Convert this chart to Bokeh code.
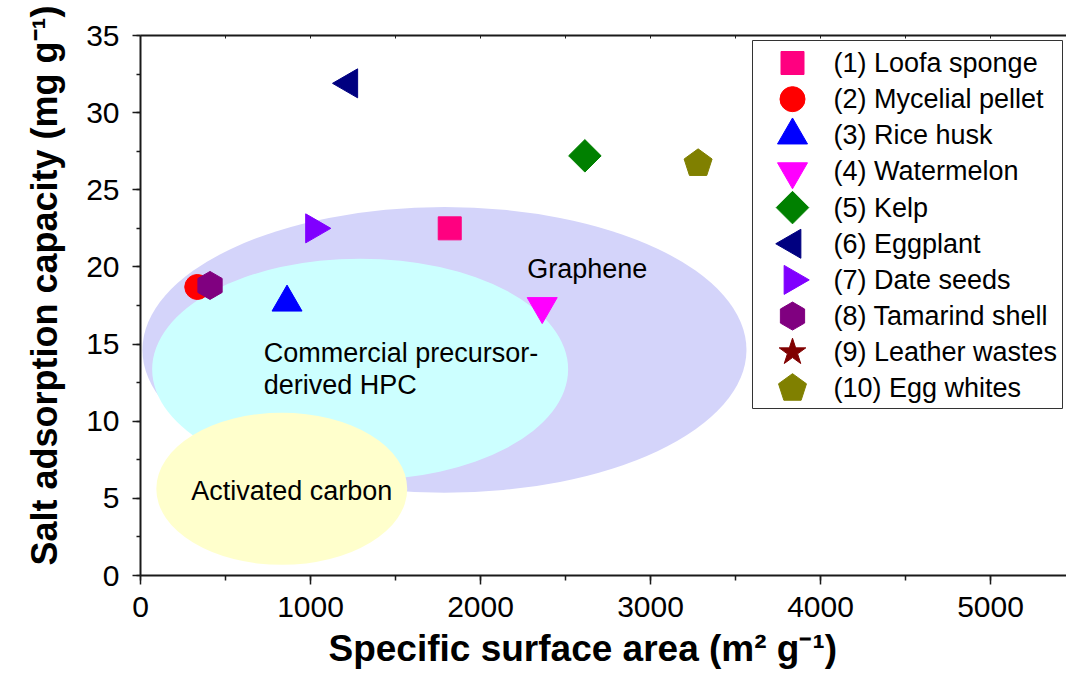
import math
from bokeh.plotting import figure
from bokeh.models import (ColumnDataSource, Range1d, LinearAxis, SingleIntervalTicker,
                          FixedTicker, Title)
from bokeh.core.properties import value
from bokeh.embed import file_html
from bokeh.resources import INLINE

# ---------------- data ----------------
names = ["(1) Loofa sponge", "(2) Mycelial pellet", "(3) Rice husk", "(4) Watermelon",
         "(5) Kelp", "(6) Eggplant", "(7) Date seeds", "(8) Tamarind shell",
         "(9) Leather wastes", "(10) Egg whites"]
ssa = [[1819], [334], [862], [2363], [2614], [1228], [1021], [409], [], [3280]]
capacity = [[22.5], [18.7], [17.7], [17.45], [27.2], [31.9], [22.5], [18.8], [], [26.7]]

region_x = [1788, 1292, 831]
region_y = [14.62, 13.36, 5.62]
region_w = [3553, 2447, 1476]
region_h = [18.52, 14.36, 9.86]

label_text = ["Graphene", "Commercial precursor-", "derived HPC", "Activated carbon"]
label_x = [2275, 725, 725, 298]
label_y = [19.85, 14.44, 12.34, 5.5]

x_label = "Specific surface area (m\u00b2 g\u207b\u00b9)"
y_label = "Salt adsorption capacity (mg g\u207b\u00b9)"

# ---------------- styles / layout ----------------
colors = ["#FF0080", "#FF0000", "#0000FF", "#FF00FF", "#008000", "#000080",
          "#8000FF", "#800080", "#800000", "#808000"]
markers = ["square", "circle", "triangle", "inverted_triangle", "square", "triangle",
           "triangle", "hex", "star", None]
sizes = [23, 25, 30, 30, 23, 29, 29, 28, 28, 14.7]
angles = [0, 0, 0, 0, math.pi / 4, math.pi / 2, -math.pi / 2, math.pi / 6, 0, 0]
region_colors = ["#D4D4FA", "#CCFFFF", "#FFFFCC"]

FONT = "Liberation Sans"
W, H = 1066, 680
ML, MT, MR, MB = 140, 35, 0, 105
FW, FH = W - ML - MR, H - MT - MB          # frame size in px
X_PER_PX = 1 / 0.17                        # data units per pixel along x

p = figure(width=W, height=H, output_backend="svg", toolbar_location=None,
           x_range=Range1d(0, FW * X_PER_PX), y_range=Range1d(0, 35),
           min_border_left=ML, min_border_right=MR, min_border_top=MT, min_border_bottom=MB)
p.outline_line_color = None
p.xgrid.visible = False
p.ygrid.visible = False
p.extra_x_ranges = {"px": Range1d(0, FW)}
p.extra_y_ranges = {"py": Range1d(0, FH)}


def draw_marker(i, x, y, **kw):
    src = ColumnDataSource(dict(x=x, y=y))
    if markers[i] is None:
        return p.ngon(x="x", y="y", radius=sizes[i], radius_units="screen", n=5, angle=angles[i],
                      source=src, fill_color=colors[i], line_color=colors[i], **kw)
    return p.scatter(x="x", y="y", source=src, marker=markers[i], size=sizes[i],
                     angle=angles[i], fill_color=colors[i], line_color=colors[i], **kw)


# regions
p.ellipse(x=region_x, y=region_y, width=region_w, height=region_h,
          fill_color=region_colors, line_color=None)
p.text(x=label_x, y=label_y, text=label_text, text_font=value(FONT),
       text_font_size="27px", text_baseline="middle", text_align="left", text_color="black")

# data points
for i in range(len(names)):
    draw_marker(i, ssa[i], capacity[i])

# legend (drawn in frame pixel coordinates)
LEG_L, LEG_R, LEG_T, LEG_B = 752 - ML, 1062 - ML, 575 - 40, 575 - 408
ROW0, PITCH = 62.5, 36.15
GLYPH_X, TEXT_X = 792 - ML, 833 - ML
p.quad(left=[LEG_L], right=[LEG_R], top=[LEG_T], bottom=[LEG_B],
       x_range_name="px", y_range_name="py",
       fill_color="white", line_color="#333333", line_width=1)
row_y = [575 - (ROW0 + PITCH * i) for i in range(len(names))]
for i in range(len(names)):
    draw_marker(i, [GLYPH_X], [row_y[i]], x_range_name="px", y_range_name="py")
p.text(x=[TEXT_X] * len(names), y=row_y, text=names, x_range_name="px", y_range_name="py",
       text_font=value(FONT), text_font_size="27px", text_baseline="middle",
       text_align="left", text_color="black")

# axes
AX = "#1a1a1a"
xa = p.xaxis[0]
xa.ticker = SingleIntervalTicker(interval=1000, num_minor_ticks=2)
ya = p.yaxis[0]
ya.ticker = SingleIntervalTicker(interval=5, num_minor_ticks=2)
for ax in (xa, ya):
    ax.axis_line_width = 2
    ax.axis_line_color = AX
    ax.major_tick_line_color = AX
    ax.minor_tick_line_color = AX
    ax.major_tick_line_width = 1.5
    ax.minor_tick_line_width = 1.5
    ax.major_tick_in = 0
    ax.minor_tick_in = 0
    ax.major_label_text_font = FONT
    ax.major_label_text_font_size = "30px"
    ax.major_label_text_color = "black"
xa.major_tick_out = 9
xa.minor_tick_out = 5
xa.major_label_standoff = 12
ya.major_tick_out = 8
ya.minor_tick_out = 4
ya.major_label_standoff = 13

top = LinearAxis(ticker=FixedTicker(ticks=[], minor_ticks=[500 * k for k in range(1, 11)]),
                 axis_line_width=2, axis_line_color=AX,
                 major_tick_in=0, major_tick_out=0, minor_tick_in=3, minor_tick_out=0,
                 minor_tick_line_color=AX)
p.add_layout(top, "above")

xt = Title(text=x_label, align="left", offset=188, standoff=12,
           text_font=FONT, text_font_size="37px", text_font_style="bold", text_color="black")
p.add_layout(xt, "below")
yt = Title(text=y_label, align="left", offset=10, standoff=38,
           text_font=FONT, text_font_size="36px", text_font_style="bold", text_color="black")
p.add_layout(yt, "left")

open("out.html", "w").write(file_html(p, INLINE))
